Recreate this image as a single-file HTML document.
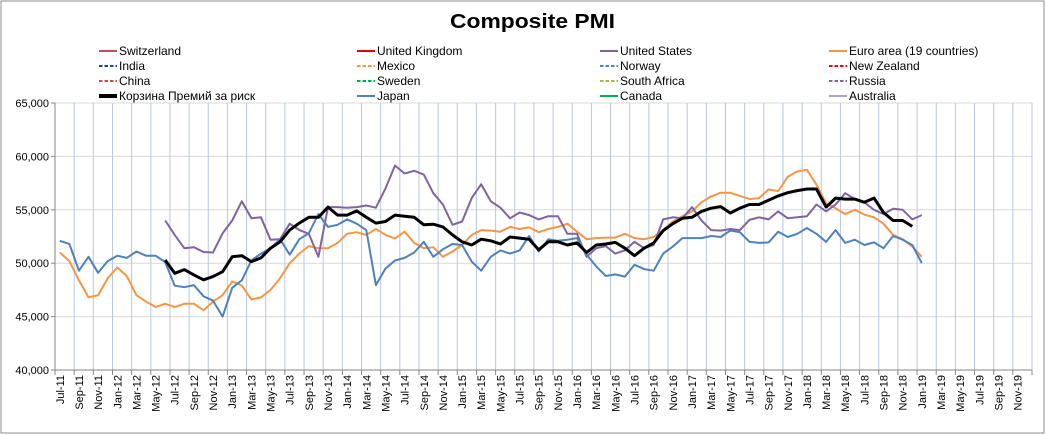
<!DOCTYPE html>
<html><head><meta charset="utf-8">
<style>
body{margin:0;background:#fff;}
#wrap{position:relative;width:1046px;height:435px;overflow:hidden;background:#fff;}
svg text{font-family:"Liberation Sans","DejaVu Sans",sans-serif;}
</style></head>
<body>
<div id="wrap">
<svg id="chart" width="1046" height="435" xmlns="http://www.w3.org/2000/svg">
<rect x="1" y="1" width="1043" height="432" fill="#fff" stroke="#8c8c8c" stroke-width="1"/>
<text x="450" y="28" font-size="20" font-weight="bold" fill="#000" textLength="165" lengthAdjust="spacingAndGlyphs">Composite PMI</text>
<g id="grid"></g>
<g id="axes"></g>
<g id="series"></g>
<g id="legend"></g>
</svg>
</div>
<script>
const yTicks=[40000,45000,50000,55000,60000,65000];
const monthNames=["Jan","Feb","Mar","Apr","May","Jun","Jul","Aug","Sep","Oct","Nov","Dec"];
const categoryCount=102;
const japan=[52.1,51.8,49.3,50.6,49.1,50.2,50.7,50.5,51.1,50.7,50.7,50.1,47.9,47.75,47.95,46.9,46.5,45.0,47.7,48.4,50.25,50.9,
51.4,52.25,50.8,52.25,52.8,54.6,53.4,53.6,54.1,53.7,53.1,47.95,49.5,50.25,50.5,51.0,52.0,50.6,51.3,51.8,51.7,
50.15,49.3,50.6,51.2,50.9,51.2,52.55,51.1,52.25,52.1,52.2,52.35,50.8,49.7,48.8,48.95,48.75,49.85,49.45,49.3,50.9,
51.55,52.35,52.35,52.35,52.55,52.45,53.05,52.9,52.0,51.9,51.95,52.95,52.45,52.75,53.3,52.75,52.0,53.1,51.9,52.2,51.7,51.95,51.4,52.55,52.2,51.7,50.0];
const euroArea=[51.0,50.2,48.4,46.8,47.0,48.6,49.6,48.8,47.0,46.4,45.9,46.2,45.9,46.2,46.2,45.6,46.4,47.0,48.3,47.9,46.6,46.8,
47.5,48.6,50.0,50.9,51.6,51.4,51.4,51.9,52.75,52.9,52.65,53.2,52.65,52.3,52.95,51.9,51.4,51.5,50.6,51.1,51.7,
52.65,53.1,53.05,52.95,53.4,53.2,53.35,52.9,53.2,53.4,53.7,52.95,52.25,52.35,52.4,52.4,52.75,52.35,52.25,52.45,53.1,
53.9,54.4,54.85,55.7,56.25,56.6,56.6,56.3,56.0,56.1,56.9,56.75,58.1,58.6,58.75,57.35,55.6,55.15,54.6,55.0,54.55,54.3,53.7,52.65,52.25,51.55,50.6];
const unitedStates=[null,null,null,null,null,null,null,null,null,null,null,
54.0,52.65,51.4,51.5,51.05,51.0,52.8,54.0,55.8,54.2,54.3,
52.2,52.25,53.7,53.1,52.75,50.6,55.25,55.25,55.2,55.25,55.4,55.2,57.0,59.15,58.4,58.65,58.3,56.55,55.5,53.6,53.9,
56.1,57.4,55.8,55.2,54.2,54.75,54.5,54.1,54.4,54.4,52.75,52.75,50.6,51.4,51.6,50.9,51.2,52.0,51.4,51.7,54.1,
54.3,54.2,55.25,54.0,53.1,53.05,53.2,53.1,54.05,54.3,54.1,54.85,54.2,54.3,54.4,55.5,54.85,55.5,56.55,56.0,55.7,55.0,54.6,55.1,55.0,54.1,54.5];
const riskBasket=[null,null,null,null,null,null,null,null,null,null,null,
50.3,49.05,49.4,48.9,48.45,48.75,49.2,50.6,50.7,50.15,50.5,
51.4,52.0,53.1,53.75,54.3,54.3,55.25,54.5,54.5,54.9,54.3,53.75,53.9,54.5,54.4,54.3,53.6,53.65,53.4,52.65,52.0,
51.7,52.25,52.1,51.8,52.45,52.35,52.25,51.25,52.0,52.0,51.7,51.9,51.0,51.7,51.8,51.95,51.4,50.7,51.4,51.9,53.05,
53.7,54.2,54.3,54.85,55.15,55.3,54.7,55.15,55.5,55.5,55.9,56.3,56.6,56.8,56.95,56.95,55.25,56.1,56.0,56.0,55.7,56.1,54.75,54.0,54.0,53.45];

const NS="http://www.w3.org/2000/svg";
const X0=55,X1=1032,Y0=370,Y1=103,VMIN=40000,VMAX=65000;
const bw=(X1-X0)/categoryCount;
function xScale(i){return X0+(i+0.5)*bw;}
function yScale(v){return Y0-(v-VMIN)/(VMAX-VMIN)*(Y0-Y1);}
function mk(tag,attrs,parent){const e=document.createElementNS(NS,tag);for(const k in attrs)e.setAttribute(k,attrs[k]);parent.appendChild(e);return e;}
const grid=document.getElementById('grid'),axes=document.getElementById('axes'),ser=document.getElementById('series'),leg=document.getElementById('legend');

yTicks.forEach(t=>{
  const y=yScale(t);
  if(t>VMIN){const l=mk('line',{x1:X0,x2:X1,y1:y,y2:y,stroke:'#d9d9d9','stroke-width':1},grid);
  
  }
  const tk=mk('line',{x1:X0-4,x2:X0,y1:y,y2:y,stroke:'#868686'},axes);
  
  
  const tx=mk('text',{x:X0-6,y:y+4,'text-anchor':'end','font-size':11,fill:'#000'},axes);
  tx.textContent=t.toLocaleString('en-US');
  
  
});
for(let k=1;k<=categoryCount/2;k++){
  const x=X0+2*k*bw;
  const l=mk('line',{x1:x,x2:x,y1:Y1,y2:Y0,stroke:'#b8c6e0','stroke-width':1},grid);
  
  
}
for(let k=0;k<=categoryCount/2;k++){
  const x=X0+2*k*bw;
  const t=mk('line',{x1:x,x2:x,y1:Y0,y2:Y0+5,stroke:'#868686'},axes);
  
  
}
const ax=mk('line',{x1:X0,x2:X0,y1:Y1,y2:Y0,stroke:'#868686'},axes);


const bx=mk('line',{x1:X0,x2:X1,y1:Y0,y2:Y0,stroke:'#868686'},axes);


for(let i=0;i<categoryCount;i+=2){
  const m=(6+i)%12,yr=11+Math.floor((6+i)/12);
  const x=xScale(i)+4;
  const tx=mk('text',{x:0,y:0,'text-anchor':'end','font-size':11,fill:'#000',transform:`translate(${x},${Y0+5}) rotate(-90)`},axes);
  tx.textContent=monthNames[m]+'-'+yr;
  
  
}
function drawSeries(arr,color,w,name){
  let d='',pen=false;
  arr.forEach((v,i)=>{ if(v==null){pen=false;return;} d+=(pen?'L':'M')+xScale(i).toFixed(1)+' '+yScale(v*1000).toFixed(1)+' '; pen=true;});
  const p=mk('path',{d:d,fill:'none',stroke:color,'stroke-width':w,'stroke-linejoin':'round'},ser);
  
  
}
drawSeries(euroArea,'#f79646',2,'euro-area-line');
drawSeries(unitedStates,'#8064a2',2,'united-states-line');
drawSeries(japan,'#4f81bd',2,'japan-line');
drawSeries(riskBasket,'#000000',3,'risk-basket-line');

const legendItems=[
 ["Switzerland","#c0504d",false,2],["United Kingdom","#e00000",false,2],["United States","#8064a2",false,2],["Euro area (19 countries)","#f79646",false,2],
 ["India","#1f497d",true,2],["Mexico","#f79646",true,2],["Norway","#4f81bd",true,2],["New Zealand","#ff0000",true,2],
 ["China","#c0504d",true,2],["Sweden","#00b050",true,2],["South Africa","#9bbb59",true,2],["Russia","#8064a2",true,2],
 ["Корзина Премий за риск","#000000",false,4],["Japan","#4f81bd",false,2],["Canada","#00b050",false,2],["Australia","#b3a2c7",false,2]];
const colX=[99,357,600,829],rowY=[51,66,81,96];
legendItems.forEach((it,k)=>{
  const c=k%4,r=Math.floor(k/4),x=colX[c],y=rowY[r];
  const g=mk('g',{},leg);
  
  
  const ln=mk('line',{x1:x,x2:x+18,y1:y,y2:y,stroke:it[1],'stroke-width':it[3]},g);
  if(it[2])ln.setAttribute('stroke-dasharray','3.5 2');
  
  
  const t=mk('text',{x:x+20,y:y+4,'font-size':12,fill:'#000'},g);
  t.textContent=it[0];
  
  
});
</script>
</body></html>
